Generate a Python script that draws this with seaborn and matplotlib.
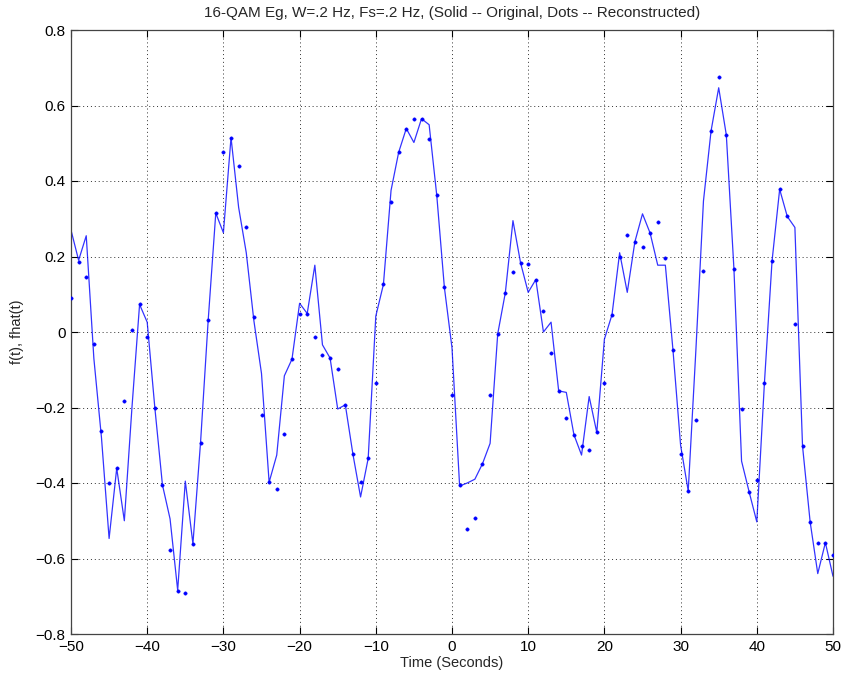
import numpy as np
import pandas as pd
import matplotlib
matplotlib.use("Agg")
import matplotlib.pyplot as plt
import seaborn as sns

t = list(range(-50, 51))

original = [
    0.27, 0.19, 0.255, -0.07, -0.28, -0.547, -0.361, -0.5, -0.2, 0.073,      # -50..-41
    0.026, -0.2, -0.405, -0.495, -0.684, -0.395, -0.561, -0.293, 0.03, 0.315,  # -40..-31
    0.263, 0.515, 0.33, 0.21, 0.03, -0.11, -0.398, -0.326, -0.116, -0.072,     # -30..-21
    0.076, 0.049, 0.177, -0.034, -0.069, -0.204, -0.193, -0.324, -0.437, -0.335,  # -20..-11
    0.042, 0.126, 0.375, 0.476, 0.539, 0.502, 0.565, 0.549, 0.362, 0.118,     # -10..-1
    -0.042, -0.408, -0.4, -0.39, -0.349, -0.295, -0.005, 0.104, 0.295, 0.183,  # 0..9
    0.105, 0.139, 0.0, 0.026, -0.156, -0.16, -0.272, -0.326, -0.171, -0.266,   # 10..19
    -0.019, 0.046, 0.21, 0.105, 0.239, 0.313, 0.262, 0.177, 0.177, -0.048,     # 20..29
    -0.3, -0.421, -0.05, 0.347, 0.533, 0.647, 0.522, 0.167, -0.342, -0.424,    # 30..39
    -0.503, -0.135, 0.188, 0.378, 0.306, 0.277, -0.302, -0.503, -0.64, -0.558, # 40..49
    -0.647,                                                                     # 50
]

reconstructed = [
    0.09, 0.185, 0.147, -0.033, -0.263, -0.4, -0.361, -0.182, 0.004, 0.073,    # -50..-41
    -0.013, -0.2, -0.405, -0.577, -0.687, -0.692, -0.561, -0.293, 0.033, 0.315,  # -40..-31
    0.478, 0.515, 0.439, 0.277, 0.039, -0.219, -0.398, -0.416, -0.269, -0.072, # -30..-21
    0.047, 0.049, -0.014, -0.06, -0.069, -0.099, -0.193, -0.324, -0.398, -0.335,  # -20..-11
    -0.134, 0.126, 0.345, 0.476, 0.537, 0.563, 0.565, 0.511, 0.362, 0.118,     # -10..-1
    -0.168, -0.406, -0.523, -0.492, -0.349, -0.166, -0.005, 0.104, 0.16, 0.183,  # 0..9
    0.181, 0.139, 0.055, -0.055, -0.156, -0.227, -0.272, -0.303, -0.313, -0.266,  # 10..19
    -0.135, 0.046, 0.198, 0.256, 0.239, 0.226, 0.262, 0.291, 0.196, -0.048,    # 20..29
    -0.322, -0.421, -0.233, 0.162, 0.533, 0.675, 0.522, 0.167, -0.205, -0.424, # 30..39
    -0.392, -0.135, 0.188, 0.378, 0.306, 0.021, -0.302, -0.503, -0.558, -0.558, # 40..49
    -0.59,                                                                      # 50
]

x_ticks = [-50, -40, -30, -20, -10, 0, 10, 20, 30, 40, 50]
y_ticks = [-0.8, -0.6, -0.4, -0.2, 0, 0.2, 0.4, 0.6, 0.8]
y_tick_labels = ["\u22120.8", "\u22120.6", "\u22120.4", "\u22120.2", "0", "0.2", "0.4", "0.6", "0.8"]
x_tick_labels = ["\u221250", "\u221240", "\u221230", "\u221220", "\u221210", "0", "10", "20", "30", "40", "50"]

df = pd.DataFrame({"t": t, "orig": original, "recon": reconstructed})

sns.set_style("white")
plt.rcParams["font.family"] = ["Liberation Sans", "DejaVu Sans"]

fig = plt.figure(figsize=(8.44, 6.81), dpi=100)
ax = fig.add_axes([71 / 844, 1 - 634 / 681, 762 / 844, 604 / 681])

sns.lineplot(data=df, x="t", y="orig", ax=ax, color="#0000ff", linewidth=0.9, alpha=0.8)
sns.scatterplot(data=df, x="t", y="recon", ax=ax, color="#0000ff", marker="o", s=6,
                edgecolor="#0000ff", linewidth=0.3, zorder=3)

ax.set_xlim(-50, 50)
ax.set_ylim(-0.8, 0.8)
ax.set_xticks(x_ticks)
ax.set_xticklabels(x_tick_labels)
ax.set_yticks(y_ticks)
ax.set_yticklabels(y_tick_labels)
ax.tick_params(direction="in", length=5, width=0.8, labelsize=11, colors="black",
               top=True, right=True, bottom=True, left=True, pad=4)
for lab in ax.get_xticklabels() + ax.get_yticklabels():
    lab.set_color("black")

ax.grid(True, linestyle=(0, (1, 3)), color="#303030", linewidth=0.7)
for sp in ax.spines.values():
    sp.set_visible(True)
    sp.set_color("#444444")
    sp.set_linewidth(0.9)

ax.set_xlabel("Time (Seconds)", fontsize=10.5, labelpad=2)
ax.set_ylabel("f(t), fhat(t)", fontsize=10.5, labelpad=8)
ax.set_title("16-QAM Eg, W=.2 Hz, Fs=.2 Hz, (Solid -- Original, Dots -- Reconstructed)",
             fontsize=11, pad=9)

fig.savefig("out.png", dpi=100, facecolor="white")
